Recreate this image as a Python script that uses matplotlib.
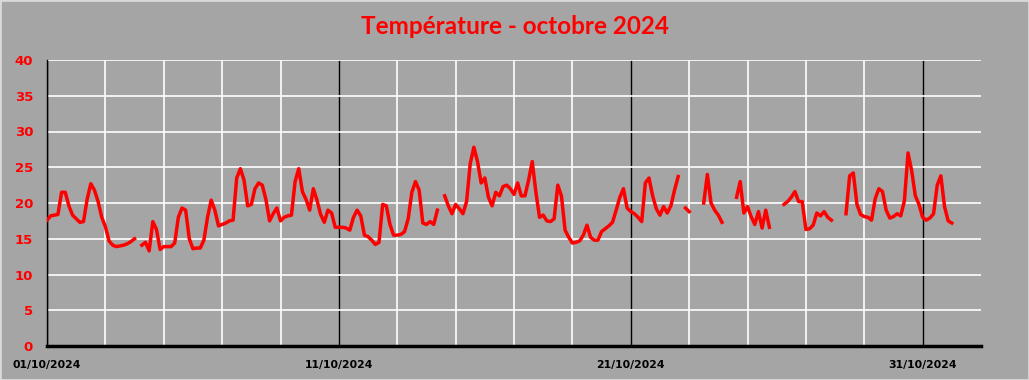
import numpy as np
import pandas as pd
import matplotlib
matplotlib.use("Agg")
import matplotlib.pyplot as plt
from matplotlib.patches import Rectangle

nan = np.nan

# Température relevée toutes les 3 heures (8 valeurs par jour), octobre 2024
temp_jours = [
    [17.6, 18.2, 18.3, 18.4, 21.5, 21.5, 19.6, 18.3],   # 01
    [17.8, 17.3, 17.4, 20.5, 22.7, 21.8, 20.2, 18.0],   # 02
    [16.7, 14.7, 14.1, 13.9, 14.0, 14.1, 14.3, 14.6],   # 03
    [15.0, nan, 14.1, 14.5, 13.3, 17.4, 16.3, 13.5],    # 04
    [13.9, 13.9, 13.9, 14.4, 18.0, 19.3, 19.0, 15.0],   # 05
    [13.6, 13.7, 13.7, 14.8, 18.0, 20.4, 19.0, 16.8],   # 06
    [17.0, 17.2, 17.5, 17.6, 23.5, 24.8, 23.2, 19.6],   # 07
    [19.8, 22.0, 22.8, 22.5, 20.5, 17.5, 18.5, 19.3],   # 08
    [17.5, 18.0, 18.2, 18.3, 23.0, 24.8, 21.6, 20.5],   # 09
    [19.0, 22.0, 20.4, 18.4, 17.3, 19.0, 18.6, 16.6],   # 10
    [16.6, 16.6, 16.5, 16.2, 18.0, 19.0, 18.2, 15.5],   # 11
    [15.3, 14.8, 14.2, 14.5, 19.8, 19.6, 17.0, 15.5],   # 12
    [15.5, 15.6, 16.0, 17.8, 21.5, 23.0, 21.8, 17.2],   # 13
    [17.0, 17.4, 17.0, 19.0, nan, 21.0, 19.6, 18.5],    # 14
    [19.8, 19.2, 18.5, 20.2, 25.5, 27.8, 25.8, 22.8],   # 15
    [23.5, 20.8, 19.6, 21.5, 21.0, 22.3, 22.5, 22.0],   # 16
    [21.2, 22.8, 21.0, 21.0, 23.2, 25.8, 21.5, 18.0],   # 17
    [18.3, 17.5, 17.4, 17.8, 22.5, 21.0, 16.2, 15.2],   # 18
    [14.4, 14.5, 14.7, 15.5, 16.9, 15.2, 14.8, 14.8],   # 19
    [16.0, 16.4, 16.8, 17.3, 19.0, 20.8, 22.0, 19.3],   # 20
    [18.8, 18.5, 18.0, 17.4, 22.8, 23.5, 21.0, 19.2],   # 21
    [18.3, 19.5, 18.6, 19.6, 21.8, 23.7, nan, 19.3],    # 22
    [18.8, nan, nan, nan, 20.0, 24.0, 20.0, 19.0],      # 23
    [18.3, 17.3, nan, nan, nan, 20.8, 23.0, 18.6],      # 24
    [19.5, 18.1, 17.0, 18.8, 16.5, 19.0, 16.6, nan],    # 25
    [nan, nan, 19.8, 20.2, 20.8, 21.6, 20.2, 20.2],     # 26
    [16.3, 16.4, 16.9, 18.6, 18.2, 18.8, 18.0, 17.6],   # 27
    [nan, nan, nan, 18.5, 23.8, 24.2, 19.8, 18.4],      # 28
    [18.1, 18.0, 17.6, 20.6, 22.0, 21.6, 19.0, 17.9],   # 29
    [18.1, 18.5, 18.2, 20.3, 27.0, 24.5, 21.0, 19.8],   # 30
    [18.0, 17.6, 17.9, 18.5, 22.5, 23.8, 19.5, 17.5],   # 31
]
temp_fin = [17.2]  # 01/11 00:00

temperatures = np.array([v for jour in temp_jours for v in jour] + temp_fin)
heures = pd.date_range("2024-10-01", periods=len(temperatures), freq="3h")

dates_labels = ["2024-10-01", "2024-10-11", "2024-10-21", "2024-10-31"]

gris = "#a5a5a5"
rouge = "#ff0000"

fig = plt.figure(figsize=(10.29, 3.80), dpi=100, facecolor=gris)
fig.patches.append(Rectangle((0, 0), 1, 1, transform=fig.transFigure,
                             fill=False, edgecolor="#d9d9d9", linewidth=2))
ax = fig.add_axes([47 / 1029, 34 / 380, 934 / 1029, 286 / 380])
ax.set_facecolor(gris)

ax.plot(heures, temperatures, color=rouge, linewidth=2.5, zorder=3)

ax.set_ylim(0, 40)
ax.set_yticks(np.arange(0, 41, 5))
ax.set_xlim(pd.Timestamp("2024-10-01"), pd.Timestamp("2024-11-02"))

# grille : blanc tous les 2 jours, noir tous les 10 jours
majeurs = pd.to_datetime(dates_labels)
ax.set_xticks(majeurs)
ax.set_xticklabels([d.strftime("%d/%m/%Y") for d in majeurs])
mineurs = [d for d in pd.date_range("2024-10-03", "2024-10-29", freq="2D")
           if d not in majeurs]
ax.set_xticks(mineurs, minor=True)

ax.grid(axis="y", color="white", linewidth=1.2, zorder=1)
ax.grid(axis="x", which="major", color="black", linewidth=1, zorder=1)
ax.grid(axis="x", which="minor", color="white", linewidth=1.2, zorder=1)
ax.set_axisbelow(True)

ax.tick_params(which="both", length=0)
ax.tick_params(axis="y", labelcolor=rouge, labelsize=9.5, pad=10)
ax.tick_params(axis="x", labelcolor="black", labelsize=7.8, pad=10)
for lab in ax.get_yticklabels() + ax.get_xticklabels():
    lab.set_fontweight("bold")

for s in ["top", "right"]:
    ax.spines[s].set_visible(False)
ax.spines["left"].set_color("black")
ax.spines["left"].set_linewidth(1)
ax.spines["bottom"].set_color("black")
ax.spines["bottom"].set_linewidth(2.5)

fig.text(0.5, 1 - 27 / 380, "Température - octobre 2024", color=rouge,
         fontsize=17.5, fontweight="bold", family="Lato", ha="center", va="center")

fig.savefig("out.png", dpi=100, facecolor=gris)
